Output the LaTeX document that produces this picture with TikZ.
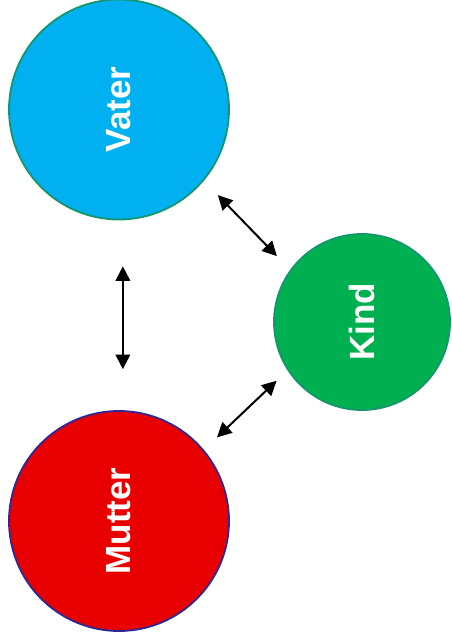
\documentclass[tikz,border=0pt]{standalone}
\usepackage{fontspec}
\setsansfont{Liberation Sans}
\usepackage{tikz}
\usetikzlibrary{arrows.meta}
\definecolor{vaterblue}{RGB}{0,176,240}
\definecolor{kindgreen}{RGB}{0,176,80}
\definecolor{mutterred}{RGB}{232,0,0}
\definecolor{rimgreen}{RGB}{20,150,110}
\definecolor{rimblue}{RGB}{45,40,150}
\newcommand{\Up}[1]{\rotatebox{90}{#1}}

\begin{document}
\begin{tikzpicture}[
    x=1pt, y=1pt,
    person/.style={circle, draw, line width=1.8pt, inner sep=0pt,
      text=white, font=\sffamily\bfseries\fontsize{35}{40}\selectfont},
    link/.style={{Triangle[length=14.5pt,width=14.5pt]}-{Triangle[length=14.5pt,width=14.5pt]}, line width=2pt}
  ]

  \useasboundingbox (0,0) rectangle (451,-642);

  \node[person, minimum size=220pt, fill=vaterblue, draw=rimgreen] (vater) at (119,-109.5) {\Up{Vater}};
  \node[person, minimum size=176pt, fill=kindgreen, draw=rimgreen] (kind) at (362,-322) {\Up{Kind}};
  \node[person, minimum size=220pt, fill=mutterred, draw=rimblue] (mutter) at (119,-521) {\Up{Mutter}};

  \draw[link, shorten <=46pt, shorten >=41pt] (vater.-88) -- (mutter.88); %% Vater<->Mutter
  \draw[link, shorten <=20pt, shorten >=19pt] (vater.-40) -- (kind.144);  %% Vater<->Kind
  \draw[link, shorten <=18pt, shorten >=15pt] (mutter.40) -- (kind.213);  %% Mutter<->Kind

\end{tikzpicture}
\end{document}
